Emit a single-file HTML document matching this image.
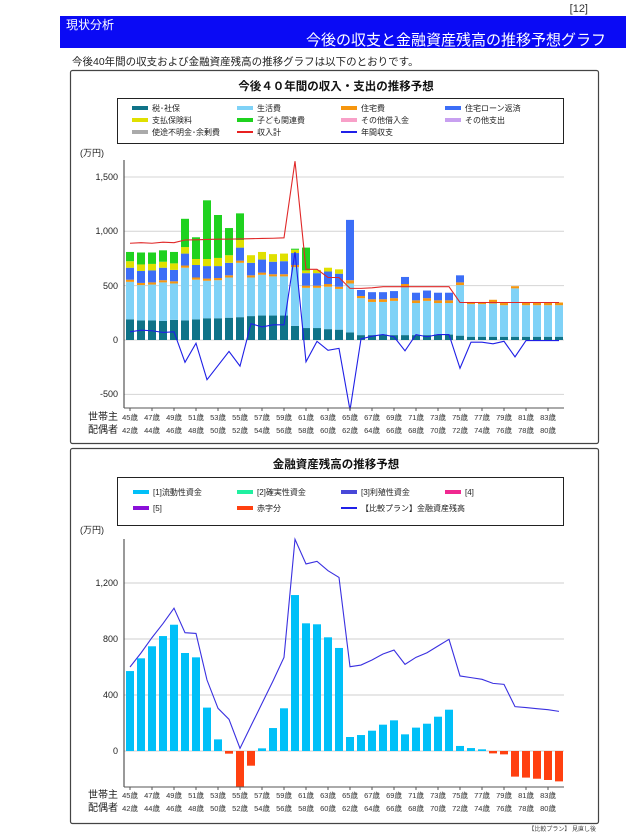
<!DOCTYPE html>
<html><head><meta charset="utf-8">
<style>
body{margin:0;background:#fff;}
svg text{font-family:"Liberation Sans","Noto Sans CJK JP",sans-serif;}
</style></head>
<body>
<svg id="s" width="626" height="835" xmlns="http://www.w3.org/2000/svg">
<rect width="626" height="835" fill="#fff"/>
<text x="588" y="12" font-size="11" text-anchor="end" font-family="Liberation Serif" fill="#333">[12]</text>
<rect x="60" y="16" width="566" height="32" fill="#0a0af5"/>
<text x="66" y="29" font-size="12" fill="#fff">現状分析</text>
<text x="606" y="45" font-size="15" fill="#fff" text-anchor="end">今後の収支と金融資産残高の推移予想グラフ</text>
<text x="72" y="65" font-size="10.5" fill="#222">今後40年間の収支および金融資産残高の推移グラフは以下のとおりです。</text>

<rect x="70.5" y="70.5" width="528" height="373" fill="#fff" stroke="#444" stroke-width="1.2" rx="2"/>
<rect x="70.5" y="448.5" width="528" height="375" fill="#fff" stroke="#444" stroke-width="1.2" rx="2"/>
<text x="336" y="90" font-size="11.5" font-weight="bold" text-anchor="middle" fill="#111">今後４０年間の収入・支出の推移予想</text>
<text x="336" y="468" font-size="11.5" font-weight="bold" text-anchor="middle" fill="#111">金融資産残高の推移予想</text>

<!-- legend 1 -->
<rect x="117.5" y="98.5" width="446" height="45" fill="none" stroke="#222"/>
<g font-size="8" fill="#222">
<rect x="132" y="106" width="16" height="4" fill="#0f7388"/><text x="152" y="111">税･社保</text>
<rect x="237" y="106" width="16" height="4" fill="#7fd2f7"/><text x="257" y="111">生活費</text>
<rect x="341" y="106" width="16" height="4" fill="#f6960e"/><text x="361" y="111">住宅費</text>
<rect x="445" y="106" width="16" height="4" fill="#3c6ef7"/><text x="465" y="111">住宅ローン返済</text>
<rect x="132" y="118" width="16" height="4" fill="#e0e000"/><text x="152" y="123">支払保険料</text>
<rect x="237" y="118" width="16" height="4" fill="#1fd21f"/><text x="257" y="123">子ども関連費</text>
<rect x="341" y="118" width="16" height="4" fill="#f8a0c8"/><text x="361" y="123">その他借入金</text>
<rect x="445" y="118" width="16" height="4" fill="#c8a0f0"/><text x="465" y="123">その他支出</text>
<rect x="132" y="130" width="16" height="4" fill="#aaa"/><text x="152" y="135">使途不明金･余剰費</text>
<rect x="237" y="131" width="16" height="2" fill="#e82020"/><text x="257" y="135">収入計</text>
<rect x="341" y="131" width="16" height="2" fill="#2020e8"/><text x="361" y="135">年間収支</text>
</g>
<!-- legend 2 -->
<rect x="117.5" y="477.5" width="446" height="48" fill="none" stroke="#222"/>
<g font-size="8" fill="#222">
<rect x="133" y="490" width="16" height="4" fill="#00c0f8"/><text x="153" y="495">[1]流動性資金</text>
<rect x="237" y="490" width="16" height="4" fill="#20f0a0"/><text x="257" y="495">[2]確実性資金</text>
<rect x="341" y="490" width="16" height="4" fill="#4848d8"/><text x="361" y="495">[3]利殖性資金</text>
<rect x="445" y="490" width="16" height="4" fill="#f02890"/><text x="465" y="495">[4]</text>
<rect x="133" y="506" width="16" height="4" fill="#8a10d8"/><text x="153" y="511">[5]</text>
<rect x="237" y="506" width="16" height="4" fill="#ff4010"/><text x="257" y="511">赤字分</text>
<rect x="341" y="507" width="16" height="2" fill="#2020e8"/><text x="361" y="511">【比較プラン】金融資産残高</text>
</g>

<!-- chart1 axes text -->
<g font-size="9" fill="#222">
<text x="80" y="156">(万円)</text>
<text x="118" y="180" text-anchor="end">1,500</text>
<text x="118" y="234" text-anchor="end">1,000</text>
<text x="118" y="289" text-anchor="end">500</text>
<text x="118" y="343" text-anchor="end">0</text>
<text x="118" y="397" text-anchor="end">-500</text>
<text x="80" y="533">(万円)</text>
<text x="118" y="586" text-anchor="end">1,200</text>
<text x="118" y="642" text-anchor="end">800</text>
<text x="118" y="698" text-anchor="end">400</text>
<text x="118" y="754" text-anchor="end">0</text>
</g>
<g font-size="10" fill="#222">
<text x="88" y="420">世帯主</text><text x="88" y="433">配偶者</text>
<text x="88" y="798">世帯主</text><text x="88" y="811">配偶者</text>
</g>
<g font-size="7.5" fill="#333" text-anchor="middle">
<text x="130" y="420">45歳</text><text x="152" y="420">47歳</text><text x="174" y="420">49歳</text><text x="196" y="420">51歳</text><text x="218" y="420">53歳</text><text x="240" y="420">55歳</text><text x="262" y="420">57歳</text><text x="284" y="420">59歳</text><text x="306" y="420">61歳</text><text x="328" y="420">63歳</text><text x="350" y="420">65歳</text><text x="372" y="420">67歳</text><text x="394" y="420">69歳</text><text x="416" y="420">71歳</text><text x="438" y="420">73歳</text><text x="460" y="420">75歳</text><text x="482" y="420">77歳</text><text x="504" y="420">79歳</text><text x="526" y="420">81歳</text><text x="548" y="420">83歳</text>
<text x="130" y="433">42歳</text><text x="152" y="433">44歳</text><text x="174" y="433">46歳</text><text x="196" y="433">48歳</text><text x="218" y="433">50歳</text><text x="240" y="433">52歳</text><text x="262" y="433">54歳</text><text x="284" y="433">56歳</text><text x="306" y="433">58歳</text><text x="328" y="433">60歳</text><text x="350" y="433">62歳</text><text x="372" y="433">64歳</text><text x="394" y="433">66歳</text><text x="416" y="433">68歳</text><text x="438" y="433">70歳</text><text x="460" y="433">72歳</text><text x="482" y="433">74歳</text><text x="504" y="433">76歳</text><text x="526" y="433">78歳</text><text x="548" y="433">80歳</text>
<text x="130" y="798">45歳</text><text x="152" y="798">47歳</text><text x="174" y="798">49歳</text><text x="196" y="798">51歳</text><text x="218" y="798">53歳</text><text x="240" y="798">55歳</text><text x="262" y="798">57歳</text><text x="284" y="798">59歳</text><text x="306" y="798">61歳</text><text x="328" y="798">63歳</text><text x="350" y="798">65歳</text><text x="372" y="798">67歳</text><text x="394" y="798">69歳</text><text x="416" y="798">71歳</text><text x="438" y="798">73歳</text><text x="460" y="798">75歳</text><text x="482" y="798">77歳</text><text x="504" y="798">79歳</text><text x="526" y="798">81歳</text><text x="548" y="798">83歳</text>
<text x="130" y="811">42歳</text><text x="152" y="811">44歳</text><text x="174" y="811">46歳</text><text x="196" y="811">48歳</text><text x="218" y="811">50歳</text><text x="240" y="811">52歳</text><text x="262" y="811">54歳</text><text x="284" y="811">56歳</text><text x="306" y="811">58歳</text><text x="328" y="811">60歳</text><text x="350" y="811">62歳</text><text x="372" y="811">64歳</text><text x="394" y="811">66歳</text><text x="416" y="811">68歳</text><text x="438" y="811">70歳</text><text x="460" y="811">72歳</text><text x="482" y="811">74歳</text><text x="504" y="811">76歳</text><text x="526" y="811">78歳</text><text x="548" y="811">80歳</text>
</g>
<text x="596" y="831" font-size="6" fill="#444" text-anchor="end">【比較プラン】 見直し後</text>
<g id="g1"></g><g id="g2"></g>
</svg>
<script>
var NS="http://www.w3.org/2000/svg";
function el(p,t,a){var e=document.createElementNS(NS,t);for(var k in a)e.setAttribute(k,a[k]);p.appendChild(e);return e;}
var g1=document.getElementById('g1'),g2=document.getElementById('g2');
function X(i){return 130+i*11;}
// chart1
function Y1(v){return 340-v*0.1087;}
[1500,1000,500,0,-500].forEach(function(v){el(g1,'line',{x1:124,x2:564,y1:Y1(v),y2:Y1(v),stroke:'#d4d4d4','stroke-width':1});});
var S=[[190,535,555,665,725,810],[180,505,525,635,695,805],[180,510,530,640,700,805],[175,530,550,665,720,825],[185,520,540,645,705,810],
[180,665,685,795,855,1115],[190,555,575,690,745,945],[200,545,565,680,745,1285],[200,550,570,680,755,1150],[205,575,595,710,780,1030],
[210,710,730,850,920,1165],[220,575,595,710,780,780],[225,600,620,740,810,810],[225,585,605,720,790,790],[225,585,605,725,795,795],
[130,670,690,800,830,840],[110,480,500,615,640,850],[110,480,500,615,645,645],[100,490,515,630,665,665],[95,470,490,610,650,650],
[70,520,550,1105,1105,1105],[45,385,405,460,460,460],[45,350,375,440,440,440],[50,350,375,440,440,440],[45,360,385,450,450,450],
[45,485,515,580,580,580],[45,340,365,435,435,435],[45,360,385,455,455,455],[50,340,365,435,435,435],[50,340,365,435,435,435],
[40,505,530,595,595,595],[30,330,350,350,350,350],[30,330,350,350,350,350],[30,335,370,370,370,370],[30,320,340,340,340,340],
[30,475,495,495,495,495],[30,320,345,345,345,345],[30,320,345,345,345,345],[30,320,345,345,345,345],[30,320,345,345,345,345]];
var C=['#0f7388','#7fd2f7','#f6960e','#3c6ef7','#e0e000','#1fd21f'];
S.forEach(function(b,i){var prev=0;b.forEach(function(v,j){if(v>prev){el(g1,'rect',{x:X(i)-4,y:Y1(v),width:8,height:Y1(prev)-Y1(v),fill:C[j]});}prev=Math.max(prev,v);});});
var R=[890,895,890,900,895,920,922,925,927,928,930,932,934,936,940,1645,650,650,575,575,475,475,480,490,490,490,490,490,490,490,345,345,345,345,345,345,345,345,345,345];
var B=[75,90,85,70,75,-205,-30,-365,-235,-105,-240,150,120,140,140,810,-200,-12,-95,-77,-645,10,35,50,30,-100,50,30,50,50,-260,-20,-20,-35,-12,-155,-5,-5,-5,-5];
el(g1,'polyline',{points:R.map(function(v,i){return X(i)+','+Y1(v);}).join(' '),fill:'none',stroke:'#e02828','stroke-width':1.1});
el(g1,'polyline',{points:B.map(function(v,i){return X(i)+','+Y1(v);}).join(' '),fill:'none',stroke:'#1f1fe6','stroke-width':1.1});
el(g1,'line',{x1:124,x2:124,y1:160,y2:408,stroke:'#333'});el(g1,'line',{x1:124,x2:564,y1:408,y2:408,stroke:'#555'});
for(var i=0;i<40;i+=2)el(g1,'line',{x1:X(i),x2:X(i),y1:408,y2:411,stroke:'#555'});
// chart2
function Y2(v){return 751-v*0.14;}
[1200,800,400,0].forEach(function(v){el(g2,'line',{x1:124,x2:564,y1:Y2(v),y2:Y2(v),stroke:'#cfcfcf','stroke-width':1});});
var V=[571,662,748,821,902,700,669,310,83,-19,-255,-105,19,164,305,1114,912,905,812,736,100,114,145,188,219,119,167,195,245,295,36,21,12,-17,-24,-183,-190,-198,-207,-217];
V.forEach(function(v,i){var y=v>0?Y2(v):751;var h=Math.abs(Y2(v)-751);el(g2,'rect',{x:X(i)-4,y:y,width:8,height:h,fill:v>0?'#00c0f8':'#ff4010'});});
var L=[600,700,810,910,1020,845,840,507,305,226,19,180,340,500,669,1512,1336,1355,1288,1240,602,614,650,693,721,619,669,702,750,798,536,524,512,483,476,317,310,302,295,283];
el(g2,'polyline',{points:L.map(function(v,i){return X(i)+','+Y2(v);}).join(' '),fill:'none',stroke:'#3a30e0','stroke-width':1.1});
el(g2,'line',{x1:124,x2:124,y1:539,y2:787,stroke:'#333'});el(g2,'line',{x1:124,x2:564,y1:787,y2:787,stroke:'#555'});
for(var i=0;i<40;i+=2)el(g2,'line',{x1:X(i),x2:X(i),y1:787,y2:790,stroke:'#555'});
</script>
</body></html>
